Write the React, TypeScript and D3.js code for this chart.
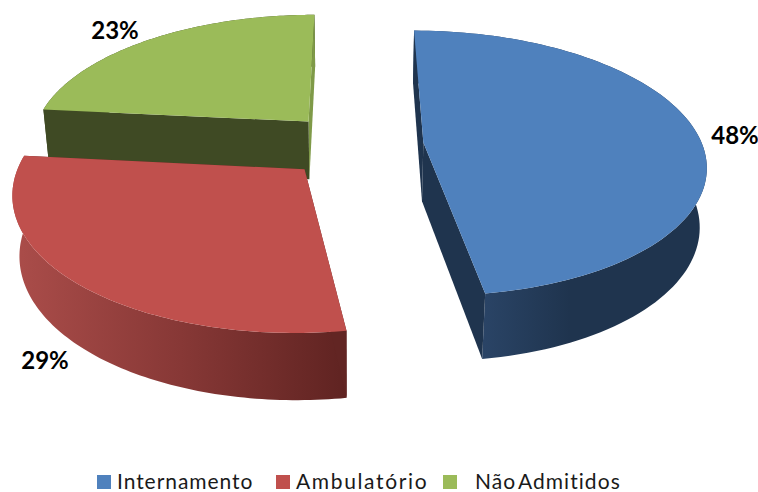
import React, { useEffect, useRef } from 'react'
import * as d3 from 'd3'

const categories = ['Internamento', 'Ambulatório', 'Não Admitidos']
const shares = [47.6, 29, 23.4]
const topColors = ['#4f81bd', '#c0504d', '#9bbb59']
const wallColors = ['#1f344e', '#622523', '#3f4a24']
const sliverColors = ['#1f344e', '#622523', '#7f9a48']
const labelPositions = [[735, 144], [45, 369], [115, 39]]
const legendBoxX = [97, 276, 443]
const legendTextX = [117, 296, 475]
const legendSpacing = [0.95, 1.65, 1.05]
const legendWordGap = [0, 0, -4]

const width = 758
const height = 492

// fake 3d camera, fitted by eye against the picture
const cam = { x0: 354, y0: 145, a: 279, b: 130, h: 60, p: 0.155, q: 0.02, explode: 0.25 }

type Pt = [number, number]

function project(u: number, v: number, z: number): Pt {
  const w = 1 - cam.p * v + cam.q * z
  return [cam.x0 + (cam.a * u) / w, cam.y0 + (cam.b * v + cam.h * z) / w]
}

function App() {
  const svgRef = useRef<SVGSVGElement>(null)

  useEffect(() => {
    const svg = d3.select(svgRef.current)
    svg.selectAll('*').remove()
    svg.attr('width', width).attr('height', height)

    const defs = svg.append('defs')
    const addGradient = (id: string, x1: number, x2: number, stops: [number, string][]) => {
      const g = defs.append('linearGradient')
        .attr('id', id)
        .attr('gradientUnits', 'userSpaceOnUse')
        .attr('x1', x1).attr('x2', x2).attr('y1', 0).attr('y2', 0)
      stops.forEach(([o, c]) => g.append('stop').attr('offset', o).attr('stop-color', c))
    }
    addGradient('wall0', 483, 570, [[0, '#2a4466'], [1, '#1f344e']])
    addGradient('wall1', 13, 348, [[0, '#ab4d4a'], [0.5, '#873836'], [1, '#5f2321']])
    addGradient('wall2', 43, 60, [[0, '#3f4a24'], [1, '#3f4a24']])

    const pie = d3.pie<number>().sort(null).value(d => d)
    const arcs = pie(shares)
    const line = d3.line<Pt>()

    const slices = arcs.map((a, i) => {
      const mid = (a.startAngle + a.endAngle) / 2
      const ox = Math.sin(mid) * cam.explode
      const oy = -Math.cos(mid) * cam.explode
      const rim = d3.range(0, 101).map(k => a.startAngle + ((a.endAngle - a.startAngle) * k) / 100)
      const at = (t: number, z: number) => project(ox + Math.sin(t), oy - Math.cos(t), z)
      const apex = (z: number) => project(ox, oy, z)
      return { i, rim, at, apex, a }
    })

    // back to front: green, red, blue
    const order = [2, 1, 0]
    order.forEach(i => {
      const s = slices[i]
      const g = svg.append('g')
      const first = s.rim[0]
      const last = s.rim[s.rim.length - 1]

      // outer wall
      const wall: Pt[] = [
        ...s.rim.map(t => s.at(t, 0)),
        ...s.rim.slice().reverse().map(t => s.at(t, 1)),
      ]
      g.append('path').attr('d', line(wall) + 'Z').attr('fill', `url(#wall${i})`)

      // radial wall on the end angle side
      g.append('path')
        .attr('d', line([s.apex(0), s.at(last, 0), s.at(last, 1), s.apex(1)]) + 'Z')
        .attr('fill', sliverColors[i])

      // radial wall on the start angle side
      g.append('path')
        .attr('d', line([s.apex(0), s.at(first, 0), s.at(first, 1), s.apex(1)]) + 'Z')
        .attr('fill', wallColors[i])

      // top face
      const top: Pt[] = [s.apex(0), ...s.rim.map(t => s.at(t, 0))]
      g.append('path').attr('d', line(top) + 'Z').attr('fill', topColors[i])
    })

    // percent labels
    svg.append('g')
      .selectAll('text')
      .data(shares)
      .enter().append('text')
      .attr('x', (d, i) => labelPositions[i][0])
      .attr('y', (d, i) => labelPositions[i][1])
      .attr('text-anchor', 'middle')
      .style('font-family', 'Lato')
      .style('font-weight', 'bold')
      .style('font-size', '24px')
      .attr('fill', '#000')
      .text(d => `${Math.round(d)}%`)

    // legend
    const legend = svg.append('g')
    legend.selectAll('rect')
      .data(categories)
      .enter().append('rect')
      .attr('x', (d, i) => legendBoxX[i])
      .attr('y', 475)
      .attr('width', 14)
      .attr('height', 14)
      .attr('fill', (d, i) => topColors[i])
    legend.selectAll('text')
      .data(categories)
      .enter().append('text')
      .attr('x', (d, i) => legendTextX[i])
      .attr('y', 488.5)
      .style('font-family', 'Lato')
      .style('font-size', '21px')
      .style('letter-spacing', (d, i) => `${legendSpacing[i]}px`)
      .style('word-spacing', (d, i) => `${legendWordGap[i]}px`)
      .attr('fill', '#1a1a1a')
      .text(d => d)
  }, [])

  return <svg ref={svgRef} style={{ position: 'absolute', left: 0, top: 0, display: 'block' }}></svg>
}

export default App
